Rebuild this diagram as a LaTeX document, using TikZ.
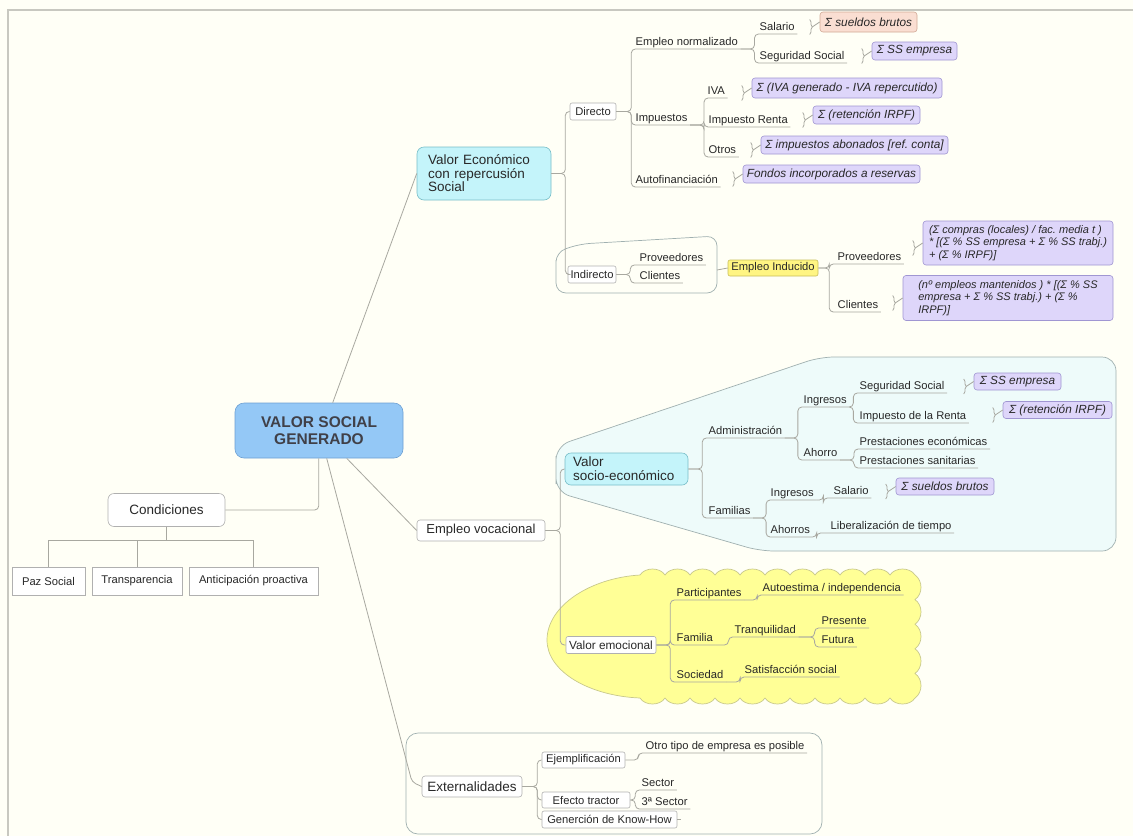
\documentclass[tikz,border=0pt]{standalone}
\usepackage{fontspec}
\setmainfont{Liberation Sans}
\usetikzlibrary{calc,decorations.pathreplacing}
\definecolor{bg}{RGB}{255,255,246}
\definecolor{lineC}{RGB}{168,168,160}
\definecolor{txt}{RGB}{40,40,40}
\definecolor{frameC}{RGB}{200,200,192}
\definecolor{centF}{RGB}{148,200,246}
\definecolor{centB}{RGB}{110,160,210}
\definecolor{centT}{RGB}{64,64,72}
\definecolor{cyanF}{RGB}{196,244,250}
\definecolor{cyanB}{RGB}{120,190,200}
\definecolor{purF}{RGB}{222,214,250}
\definecolor{purB}{RGB}{160,150,210}
\definecolor{pinkF}{RGB}{250,222,210}
\definecolor{pinkB}{RGB}{210,170,150}
\definecolor{yelF}{RGB}{255,245,130}
\definecolor{yelB}{RGB}{200,190,90}
\definecolor{cloudF}{RGB}{255,255,150}
\definecolor{cloudB}{RGB}{200,200,140}
\definecolor{contF}{RGB}{238,251,250}
\definecolor{contB}{RGB}{160,176,176}
\definecolor{boxB}{RGB}{176,176,176}
\newcommand{\fsz}[2]{\fontsize{#1}{#2}\selectfont}
\newcommand{\clink}[1]{%
 \draw[conn, decorate, decoration={brace, amplitude=2.5pt}] ($(#1.west)+(-10,-2.5)$) -- ($(#1.west)+(-10,12.5)$);
 \draw[conn] ($(#1.west)+(-7.5,5)$) -- (#1.west);}
\frenchspacing
\begin{document}
\frenchspacing
\begin{tikzpicture}[x=1pt,y=-1pt,
 conn/.style={draw=lineC, line width=0.8pt},
 cn/.style={conn, rounded corners=4pt},
 ul/.style={font=\fsz{11.2}{13}, text=txt, anchor=south west, inner xsep=2.5pt, inner ysep=0.5pt, text depth=2.5pt},
 wbox/.style={draw=boxB, fill=white, rounded corners=2pt, font=\fsz{11.2}{13}, text=txt, inner sep=0pt, line width=0.6pt},
 sqbox/.style={wbox, rounded corners=0pt},
 callP/.style={draw=purB, fill=purF, rounded corners=3pt, font=\fsz{11.8}{13}\itshape, text=txt, inner sep=0pt, line width=0.6pt},
 callK/.style={callP, draw=pinkB, fill=pinkF},
 cyanbox/.style={draw=cyanB, fill=cyanF, rounded corners=6pt, text=txt, inner sep=0pt, line width=0.6pt},
 container/.style={draw=contB, line width=0.7pt, rounded corners=12pt},
]
\fill[bg] (0,0) rectangle (1133,836);
\useasboundingbox (0,0) rectangle (1133,836);
\draw[frameC, line width=1.5pt] (7,10) -- (1133,10);
\draw[frameC, line width=1.5pt] (8,10) -- (8,836);

% containers
\draw[container, rounded corners=10pt] (556,270) -- (556,252) -- (580,244) -- (717,236) -- (717,293) -- (556,293) -- cycle;
\draw[container, fill=contF, rounded corners=14pt] (556,470) -- (556,446) -- (820,357) -- (1116,357) -- (1116,551) -- (760,551) -- (556,492) -- cycle;
\draw[draw=cloudB, fill=cloudF, line width=0.7pt] (640,575)
 \foreach \i in {1,...,11} { .. controls ({620+25*\i},567) and ({635+25*\i},567) .. ({640+25*\i},575) }
 \foreach \i in {1,...,5} { .. controls (923,{575+24.6*\i-19}) and (923,{575+24.6*\i-5.6}) .. (915,{575+24.6*\i}) }
 \foreach \i in {1,...,11} { .. controls ({935-25*\i},706) and ({920-25*\i},706) .. ({915-25*\i},698) }
 .. controls (590,696) and (547,672) .. (547,640) .. controls (547,606) and (590,578) .. (640,575) -- cycle;
\draw[container] (406,834) -- (406,733) -- (822,733) -- (822,834) -- cycle;

% central
\node[draw=centB, fill=centF, rounded corners=9pt, minimum width=168pt, minimum height=55pt, inner sep=0pt, align=center, font=\fsz{15.5}{17}\bfseries, text=centT, line width=0.6pt] (vsg) at (319,430.5) {VALOR SOCIAL\\GENERADO};

% condiciones
\node[wbox, rounded corners=6pt, minimum width=117pt, minimum height=33pt, font=\fsz{13.5}{15}] (cond) at (166.5,510) {Condiciones};
\node[sqbox, minimum width=73pt, minimum height=28pt] (paz) at (48.5,581) {Paz Social};
\node[sqbox, minimum width=90pt, minimum height=28pt] (trans) at (137,581) {Transparencia};
\node[sqbox, minimum width=129pt, minimum height=28pt] (antic) at (253.5,581) {Anticipación proactiva};

% valor economico
\node[cyanbox, rounded corners=7pt, minimum width=134pt, minimum height=53pt, text width=112pt, align=left, font=\fsz{13.5}{13.5}] (ve) at (484,173.5) {Valor Económico\\con repercusión\\Social};
\node[wbox, minimum width=46pt, minimum height=17pt] (dir) at (593,111.5) {Directo};
\node[ul] (empnorm) at (633,49) {Empleo normalizado};
\node[ul] (imp) at (633,125) {Impuestos};
\node[ul] (autof) at (633,187) {Autofinanciación};
\node[ul] (sal) at (757,34) {Salario};
\node[ul] (segsoc) at (757,63) {Seguridad Social};
\node[callK, minimum width=97pt, minimum height=20pt] (csal) at (868.5,22) {Σ sueldos brutos};
\node[callP, minimum width=85pt, minimum height=18pt] (css) at (914.5,51) {Σ SS empresa};
\node[ul] (iva) at (705,98) {IVA};
\node[ul] (imprenta) at (706,127) {Impuesto Renta};
\node[ul] (otros) at (706,157) {Otros};
\node[callP, minimum width=190pt, minimum height=20pt] (civa) at (847,88) {Σ (IVA generado - IVA repercutido)};
\node[callP, minimum width=107pt, minimum height=18pt] (cirpf) at (866.5,115) {Σ (retención IRPF)};
\node[callP, minimum width=187pt, minimum height=18pt] (cotros) at (854.5,145) {Σ impuestos abonados [ref. conta]};
\node[callP, minimum width=177pt, minimum height=18pt] (cautof) at (831.5,174) {Fondos incorporados a reservas};

\node[wbox, minimum width=48pt, minimum height=17pt] (ind) at (592,274.5) {Indirecto};
\node[ul] (prov1) at (637,265) {Proveedores};
\node[ul] (cli1) at (637,283) {Clientes};
\coordinate (indR) at (717,270);
\node[draw=yelB, fill=yelF, rounded corners=2pt, minimum width=90pt, minimum height=16pt, inner sep=0pt, font=\fsz{11.2}{13}, text=txt, line width=0.6pt] (empind) at (773,268) {Empleo Inducido};
\node[ul] (prov2) at (835,264) {Proveedores};
\node[ul] (cli2) at (835,312) {Clientes};
\node[callP, minimum width=190pt, minimum height=44pt, align=left, font=\fsz{11}{12.8}\itshape] (cprov) at (1018,243) {(Σ compras (locales) / fac. media t )\\{}* [(Σ \% SS empresa + Σ \% SS trabj.)\\{}+ (Σ \% IRPF)]};
\node[callP, minimum width=210pt, minimum height=45pt, align=left, font=\fsz{11}{12.8}\itshape] (ccli) at (1008,298) {(nº empleos mantenidos ) * [(Σ \% SS\\{}empresa + Σ \% SS trabj.) + (Σ \%\\{}IRPF)]\hspace*{122pt}};

% empleo vocacional
\node[wbox, rounded corners=3pt, minimum width=128pt, minimum height=21pt, font=\fsz{13}{14}] (ev) at (481,530.5) {Empleo vocacional};
\node[cyanbox, rounded corners=6pt, minimum width=123pt, minimum height=32pt, text width=107pt, align=left, font=\fsz{13.5}{14}] (vseb) at (626.5,469) {Valor\\socio-económico};
\node[ul] (adm) at (706,438) {Administración};
\node[ul] (fam) at (706,518) {Familias};
\node[ul] (ing1) at (801,407) {Ingresos};
\node[ul] (ahorro) at (801,460) {Ahorro};
\node[ul] (segsoc2) at (857,393) {Seguridad Social};
\node[ul] (imprenta2) at (857,423) {Impuesto de la Renta};
\node[callP, minimum width=87pt, minimum height=17pt] (css2) at (1017.5,381.5) {Σ SS empresa};
\node[callP, minimum width=109pt, minimum height=17pt] (cirpf2) at (1057.5,410) {Σ (retención IRPF)};
\node[ul] (presteco) at (857,449) {Prestaciones económicas};
\node[ul] (prestsan) at (857,468) {Prestaciones sanitarias};
\node[ul] (ing2) at (768,500) {Ingresos};
\node[ul] (ahorros) at (768,537) {Ahorros};
\node[ul] (sal2) at (831,498) {Salario};
\node[callP, minimum width=98pt, minimum height=17pt] (csal2) at (945,486.5) {Σ sueldos brutos};
\node[ul] (libt) at (828,533) {Liberalización de tiempo};

\node[wbox, minimum width=90pt, minimum height=17pt, font=\fsz{11.8}{13}] (vemo) at (611,645) {Valor emocional};
\node[ul] (part) at (674,600) {Participantes};
\node[ul] (fam2) at (674,645) {Familia};
\node[ul] (soc) at (674,682) {Sociedad};
\node[ul] (autoest) at (760,595) {Autoestima / independencia};
\node[ul] (tranq) at (732,637) {Tranquilidad};
\node[ul] (pres) at (819,628) {Presente};
\node[ul] (fut) at (819,647) {Futura};
\node[ul] (satis) at (742,677) {Satisfacción social};

% externalidades
\node[wbox, rounded corners=3pt, minimum width=100pt, minimum height=21pt, font=\fsz{13.5}{15}] (ext) at (472,786.5) {Externalidades};
\node[wbox, minimum width=83pt, minimum height=16pt] (ejem) at (583.5,760) {Ejemplificación};
\node[wbox, minimum width=88pt, minimum height=16pt] (efec) at (586,800) {Efecto tractor};
\node[wbox, minimum width=135pt, minimum height=17pt] (know) at (609.5,819.5) {Generción de Know-How};
\node[ul] (otro) at (643,753) {Otro tipo de empresa es posible};
\node[ul] (sector) at (639,790) {Sector};
\node[ul] (sector3) at (639,809) {3ª Sector};

% connectors from centre
\draw[conn] ($(vsg.north west)+(98,0)$) -- (ve.west);
\draw[cn] ($(vsg.south west)+(84,0)$) |- (cond.east);
\draw[conn] ($(vsg.south west)+(112,0)$) -- (ev.west);
\coordinate (extbend) at (412,782);
\draw[cn] ($(vsg.south west)+(92,0)$) -- (extbend) -- (ext.west);

\draw[conn] (cond.south) -- ++(0,14) coordinate (cbar);
\draw[conn] (cbar) -| (paz.north);
\draw[conn] (cbar) -| (trans.north);
\draw[conn] (cbar) -| (antic.north);

\draw[cn] (ve.east) -- ++(14,0) |- (dir.west);
\draw[cn] (ve.east) -- ++(14,0) |- (ind.west);
\draw[cn] (dir.east) -- ++(15,0) |- (empnorm.south east);
\draw[cn] (dir.east) -- ++(15,0) |- (imp.south east);
\draw[cn] (dir.east) -- ++(15,0) |- (autof.south east);
\draw[cn] (empnorm.south east) -- ++(14,0) |- (sal.south east);
\draw[cn] (empnorm.south east) -- ++(14,0) |- (segsoc.south east);
\draw[cn] (imp.south east) -- ++(14,0) |- (iva.south east);
\draw[cn] (imp.south east) -- ++(14,0) |- (imprenta.south east);
\draw[cn] (imp.south east) -- ++(14,0) |- (otros.south east);
\clink{csal} \clink{css} \clink{civa} \clink{cirpf} \clink{cotros} \clink{cautof}

\draw[cn] (ind.east) -- ++(14,0) |- (prov1.south east);
\draw[cn] (ind.east) -- ++(14,0) |- (cli1.south east);
\draw[conn] (indR) -- (empind.west);
\draw[cn] (empind.east) -- ++(11,0) |- (prov2.south east);
\draw[cn] (empind.east) -- ++(11,0) |- (cli2.south east);
\clink{cprov} \clink{ccli}

\draw[cn] (ev.east) -- ++(15,0) |- (vseb.west);
\draw[cn] (ev.east) -- ++(15,0) |- (vemo.west);
\draw[cn] (vseb.east) -- ++(14,0) |- (adm.south east);
\draw[cn] (vseb.east) -- ++(14,0) |- (fam.south east);
\draw[cn] (adm.south east) -- ++(13,0) |- (ing1.south east);
\draw[cn] (adm.south east) -- ++(13,0) |- (ahorro.south east);
\draw[cn] (ing1.south east) -- ++(4,0) |- (segsoc2.south east);
\draw[cn] (ing1.south east) -- ++(4,0) |- (imprenta2.south east);
\draw[cn] (ahorro.south east) -- ++(14,0) |- (presteco.south east);
\draw[cn] (ahorro.south east) -- ++(14,0) |- (prestsan.south east);
\draw[cn] (fam.south east) -- ++(13,0) |- (ing2.south east);
\draw[cn] (fam.south east) -- ++(13,0) |- (ahorros.south east);
\draw[cn] (ing2.south east) -- ++(7,0) |- (sal2.south east);
\draw[cn] (ahorros.south east) -- ++(4,0) |- (libt.south east);
\clink{css2} \clink{cirpf2} \clink{csal2}

\draw[cn] (vemo.east) -- ++(14,0) |- (part.south east);
\draw[cn] (vemo.east) -- ++(14,0) |- (fam2.south east);
\draw[cn] (vemo.east) -- ++(14,0) |- (soc.south east);
\draw[cn] (part.south east) -- ++(13,0) |- (autoest.south east);
\draw[cn] (fam2.south east) -- ++(13,0) |- (tranq.south east);
\draw[cn] (tranq.south east) -- ++(16,0) |- (pres.south east);
\draw[cn] (tranq.south east) -- ++(16,0) |- (fut.south east);
\draw[cn] (soc.south east) -- ++(14,0) |- (satis.south east);

\draw[cn] (ext.east) -- ++(15,0) |- (ejem.west);
\draw[cn] (ext.east) -- ++(15,0) |- (efec.west);
\draw[cn] (ext.east) -- ++(15,0) |- (know.west);
\draw[cn] (ejem.east) -- ++(13,0) |- (otro.south east);
\draw[cn] (efec.east) -- ++(5,0) |- (sector.south east);
\draw[cn] (efec.east) -- ++(5,0) |- (sector3.south east);
\draw[conn] (know.east) -- ++(4,0);
\end{tikzpicture}
\end{document}
